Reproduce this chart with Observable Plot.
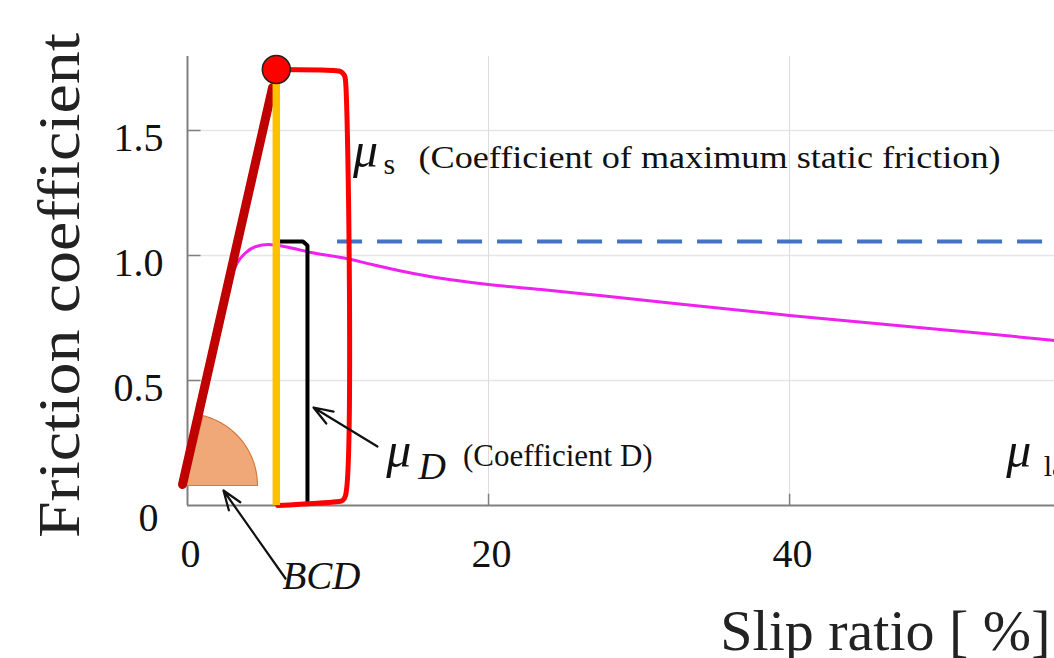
<!DOCTYPE html>
<html>
<head>
<meta charset="utf-8">
<script src="https://cdn.jsdelivr.net/npm/d3@7"></script>
<script src="https://cdn.jsdelivr.net/npm/@observablehq/plot@0.6"></script>
<style>
  html, body { margin: 0; padding: 0; background: #fff; }
  #chart svg { display: block; }
</style>
</head>
<body>
<div id="chart"></div>
<script>
// ---- data ----
const slipRatio = [-0.3, 1.0, 2.0, 2.8, 3.3, 3.85, 4.5, 5.4, 6.5, 8.2, 10.4, 12.2, 15, 17.5, 20, 23.5, 27.4, 40, 50, 53.6, 57.6];
const frictionCoef = [0.08, 0.42, 0.71, 0.90, 0.97, 1.01, 1.035, 1.044, 1.035, 1.012, 0.99, 0.965, 0.928, 0.903, 0.884, 0.864, 0.84, 0.76, 0.704, 0.684, 0.66];

const xTickValues = [0, 20, 40];
const xTickLabels = ["0", "20", "40"];
const yTickValues = [0, 0.5, 1.0, 1.5];
const yTickLabels = ["0", "0.5", "1.0", "1.5"];

// peak (mu_s) and coefficient D
const muSSlip = [5.9];
const muSValue = [1.744];
const muDValue = [1.056];
const muDSlip = [7.97];
const bracketSSlip = [10.5];
const bcdSlopeSlip = [-0.33, 5.65];
const bcdSlopeMu = [0.084, 1.672];
const dashedStartSlip = [9.97];

const xTitle = "Slip ratio [ %]";
const yTitle = "Friction coefficient";

// ---- build tables ----
const curve = slipRatio.map((x, i) => ({x, y: frictionCoef[i]}));
const slope = bcdSlopeSlip.map((x, i) => ({x, y: bcdSlopeMu[i]}));

const sx = muSSlip[0], sy = muSValue[0], bx = bracketSSlip[0];
const redBracket = [
  {x: sx, y: sy}, {x: bx - 0.8, y: sy - 0.004}, {x: bx - 0.33, y: sy - 0.008},
  {x: bx - 0.07, y: sy - 0.024}, {x: bx, y: sy - 0.045},
  {x: bx, y: 0.04}, {x: bx - 0.2, y: 0.02}, {x: bx - 0.6, y: 0.015}, {x: sx + 0.1, y: 0.0}
];
const dx0 = muDSlip[0], dy0 = muDValue[0];
const blackBracket = [
  {x: sx, y: dy0}, {x: dx0 - 0.3, y: dy0}, {x: dx0, y: dy0 - 0.016}, {x: dx0, y: 0.012}
];
// BCD sector (quarter-ish ellipse in data space)
const bcdC = {x: -0.13, y: 0.08}, rX = 4.78, rY = 0.288;
const bcd = [{x: bcdC.x, y: bcdC.y}];
for (let a = 76; a >= 0; a -= 2) {
  const t = a * Math.PI / 180;
  bcd.push({x: bcdC.x + rX * Math.cos(t), y: bcdC.y + rY * Math.sin(t)});
}
bcd.push({x: bcdC.x, y: bcdC.y});

const serif = "Liberation Serif, Times New Roman, serif";

const plot = Plot.plot({
  width: 1054,
  height: 658,
  marginLeft: 187,
  marginRight: 0,
  marginTop: 55,
  marginBottom: 153,
  x: {domain: [0, 57.6], axis: null},
  y: {domain: [0, 1.8], axis: null},
  style: {fontFamily: serif, background: "#fff", overflow: "visible"},
  marks: [
    // grid
    Plot.ruleY(yTickValues.slice(1), {stroke: "#e6e6e6", strokeWidth: 1.5}),
    Plot.ruleX(xTickValues.slice(1), {y1: 0, y2: 1.796, stroke: "#dcdcdc", strokeWidth: 1}),
    // axes
    Plot.ruleX([0], {y1: 0, y2: 1.796, stroke: "#808080", strokeWidth: 2}),
    Plot.ruleY([0], {stroke: "#808080", strokeWidth: 2}),
    Plot.ruleY(yTickValues.slice(1), {x1: 0, x2: 0.9, stroke: "#808080", strokeWidth: 1.5}),
    Plot.ruleX(xTickValues.slice(1), {y1: 0, y2: 0.045, stroke: "#808080", strokeWidth: 1.5}),
    // tick labels
    Plot.text(yTickValues.slice(1), {x: 0, y: d => d, text: (d, i) => yTickLabels[i + 1], textAnchor: "end", lineAnchor: "bottom", dx: -24, dy: 20, fontSize: 40, fill: "#111"}),
    Plot.text([yTickValues[0]], {x: 0, y: d => d, text: () => yTickLabels[0], textAnchor: "end", lineAnchor: "bottom", dx: -29, dy: 25, fontSize: 40, fill: "#111"}),
    Plot.text(xTickValues, {x: d => d, y: 0, text: (d, i) => xTickLabels[i], lineAnchor: "bottom", dx: 3, dy: 61, fontSize: 40, fill: "#111"}),
    // titles
    Plot.text([yTitle], {frameAnchor: "left", text: d => d, rotate: -90, textAnchor: "middle", lineAnchor: "bottom", dx: -109, dy: 5, fontSize: 60, fill: "#222", className: "y-title"}),
    Plot.text([xTitle], {frameAnchor: "bottom-right", text: d => d, textAnchor: "end", lineAnchor: "bottom", dx: -4, dy: 144, fontSize: 58, fill: "#222"}),
    // blue dashed mu_D level
    Plot.ruleY(muDValue, {x1: dashedStartSlip[0], x2: 57.6, stroke: "#4472C4", strokeWidth: 4, strokeDasharray: "25,15"}),
    // magenta friction curve
    Plot.line(curve, {x: "x", y: "y", stroke: "#EE22EE", strokeWidth: 3, curve: "monotone-x"}),
    // BCD sector
    Plot.line(bcd, {x: "x", y: "y", fill: "#F0A878", stroke: "#D47A3E", strokeWidth: 1.2}),
    // black bracket (mu_D)
    Plot.line(blackBracket, {x: "x", y: "y", stroke: "#000", strokeWidth: 4, strokeLinejoin: "round"}),
    // red bracket (mu_s)
    Plot.line(redBracket, {x: "x", y: "y", stroke: "#FF0000", strokeWidth: 5, curve: "catmull-rom", strokeLinejoin: "round"}),
    // dark red slope
    Plot.line(slope, {x: "x", y: "y", stroke: "#C00000", strokeWidth: 9}),
    // yellow vertical
    Plot.ruleX(muSSlip, {y1: 0, y2: muSValue[0], stroke: "#FFC000", strokeWidth: 7.5}),
    // red peak dot
    Plot.dot([0], {x: () => muSSlip[0], y: () => muSValue[0], r: 14, fill: "#FF0000", stroke: "#222", strokeWidth: 1.5}),
    // arrows
    Plot.arrow([0], {x1: () => 12.62, y1: () => 0.236, x2: () => 8.37, y2: () => 0.392, stroke: "#111", strokeWidth: 2.2, headLength: 14, headAngle: 40}),
    Plot.arrow([0], {x1: () => 6.51, y1: () => -0.292, x2: () => 2.39, y2: () => 0.06, stroke: "#111", strokeWidth: 2.2, headLength: 14, headAngle: 40}),
    // annotation texts
    Plot.text(["μ"], {x: () => 11.0, y: () => 1.356, text: d => d, textAnchor: "start", lineAnchor: "bottom", fontSize: 50, fontStyle: "italic", fill: "#111"}),
    Plot.text(["s"], {x: () => 13.02, y: () => 1.328, text: d => d, textAnchor: "start", lineAnchor: "bottom", fontSize: 30, fill: "#111"}),
    Plot.text(["(Coefficient of maximum static friction)"], {x: () => 15.35, y: () => 1.352, text: d => d, textAnchor: "start", lineAnchor: "bottom", fontSize: 32, fill: "#111", className: "mus-text"}),
    Plot.text(["μ"], {x: () => 13.2, y: () => 0.156, text: d => d, textAnchor: "start", lineAnchor: "bottom", fontSize: 50, fontStyle: "italic", fill: "#111"}),
    Plot.text(["D"], {x: () => 15.35, y: () => 0.108, text: d => d, textAnchor: "start", lineAnchor: "bottom", fontSize: 38, fontStyle: "italic", fill: "#111"}),
    Plot.text(["(Coefficient D)"], {x: () => 18.3, y: () => 0.16, text: d => d, textAnchor: "start", lineAnchor: "bottom", fontSize: 31, fill: "#111"}),
    Plot.text(["BCD"], {x: () => 6.31, y: () => -0.332, text: d => d, textAnchor: "start", lineAnchor: "bottom", fontSize: 39, fontStyle: "italic", fill: "#111"}),
    Plot.text(["μ"], {x: () => 54.4, y: () => 0.156, text: d => d, textAnchor: "start", lineAnchor: "bottom", fontSize: 50, fontStyle: "italic", fill: "#111"}),
    Plot.text(["la"], {x: () => 56.88, y: () => 0.12, text: d => d, textAnchor: "start", lineAnchor: "bottom", fontSize: 30, fill: "#111"})
  ]
});
document.getElementById("chart").appendChild(plot);
// stretch the long labels to the observed widths
d3.select(plot).selectAll("g.mus-text text").attr("textLength", 582).attr("lengthAdjust", "spacingAndGlyphs");
d3.select(plot).selectAll("g.y-title text").attr("textLength", 505).attr("lengthAdjust", "spacingAndGlyphs");
</script>
</body>
</html>
